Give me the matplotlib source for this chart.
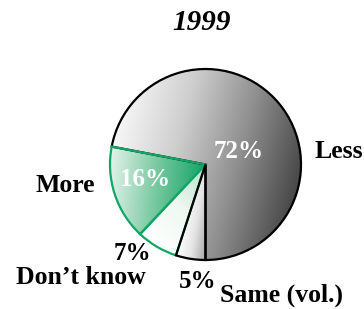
import matplotlib
matplotlib.use("Agg")
import matplotlib.pyplot as plt
import numpy as np
from matplotlib.colors import LinearSegmentedColormap

W, H = 364, 309

# data
labels = ["Less", "More", "Don\u2019t know", "Same (vol.)"]
shares = [72, 16, 7, 5]
pct_text = ["72%", "16%", "7%", "5%"]
title = "1999"

# pie geometry in pixel units
cx, cy, R = 205.5, H - 164.5, 95.5

fig = plt.figure(figsize=(W / 100, H / 100), dpi=100)
ax = fig.add_axes([0, 0, 1, 1])

wedges, _ = ax.pie(shares, startangle=-90, counterclock=True, center=(cx, cy),
                   radius=R, frame=True)
ax.set_xlim(0, W)
ax.set_ylim(0, H)
ax.set_aspect("equal")
ax.axis("off")

green = "#12a566"
edges = ["black", green, green, "black"]
# gradient colours and direction (degrees) for each slice
grads = [
    (["#f7f7f7", "#cdcdcd", "#8e8e8e", "#484848"], -15),
    (["#e2f2e9", "#78c9a0", "#14a468"], -5),
    (["#ffffff", "#eef8f1", "#b5e0c6"], 45),
    (["#ffffff", "#e4e4e4", "#a6a6a6"], -10),
]

xs = np.linspace(cx - R, cx + R, 300)
ys = np.linspace(cy - R, cy + R, 300)
X, Y = np.meshgrid(xs, ys)

for w, (cols, ang), ec in zip(wedges, grads, edges):
    w.set_facecolor("none")
    w.set_edgecolor(ec)
    w.set_linewidth(1.6)
    # limit gradient to the wedge's own extent
    t1, t2 = np.radians(w.theta1), np.radians(w.theta2)
    th = np.linspace(t1, t2, 50)
    px = np.concatenate([[cx], cx + R * np.cos(th)])
    py = np.concatenate([[cy], cy + R * np.sin(th)])
    d = np.array([np.cos(np.radians(ang)), np.sin(np.radians(ang))])
    proj_pts = px * d[0] + py * d[1]
    P = X * d[0] + Y * d[1]
    v = np.clip((P - proj_pts.min()) / (proj_pts.max() - proj_pts.min()), 0, 1)
    cmap = LinearSegmentedColormap.from_list("g", cols)
    im = ax.imshow(v, cmap=cmap, origin="lower", vmin=0, vmax=1,
                   extent=(cx - R, cx + R, cy - R, cy + R), zorder=1,
                   interpolation="bilinear")
    im.set_clip_path(w)
    w.set_zorder(2)

serif = "Liberation Serif"
lab_kw = dict(fontfamily=serif, fontweight="bold", fontsize=18.5, ha="center", va="center")
pct_kw = dict(fontfamily=serif, fontweight="bold", fontsize=18, ha="center", va="center")

ax.text(202, H - 22, title, fontfamily=serif, fontweight="bold", fontstyle="italic",
        fontsize=21, ha="center", va="center")
ax.text(339, H - 152, labels[0], **lab_kw)
ax.text(65, H - 185, labels[1], **lab_kw)
ax.text(81, H - 278, labels[2], **lab_kw)
ax.text(282, H - 295, labels[3], **lab_kw)

ax.text(239, H - 152, pct_text[0], color="white", zorder=3, **pct_kw)
ax.text(145, H - 179, pct_text[1], color="white", zorder=3, **pct_kw)
ax.text(132, H - 253, pct_text[2], **pct_kw)
ax.text(198, H - 281, pct_text[3], **pct_kw)

fig.savefig("out.png", dpi=100)
